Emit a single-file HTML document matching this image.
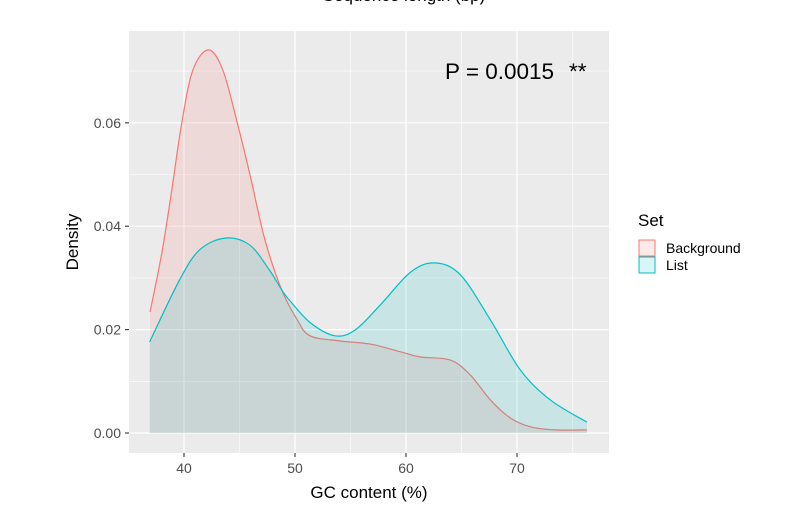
<!DOCTYPE html>
<html><head><meta charset="utf-8"><style>
body{margin:0;background:#fff;}
svg{display:block;font-family:"Liberation Sans",sans-serif;}
</style></head><body>
<svg id="c" width="790" height="531">
<text x="404" y="1" text-anchor="middle" font-size="17">Sequence length (bp)</text>
<rect x="129" y="31" width="480" height="422" fill="#ebebeb"/>
<g id="grid"></g>
<g id="series"></g>
<g id="axes"></g>
<g>
<text x="445" y="79" font-size="22.5">P = 0.0015</text>
<text x="569" y="79" font-size="22.5">**</text>
</g>
<text x="369" y="498" text-anchor="middle" font-size="17">GC content (%)</text>
<text transform="translate(78,242) rotate(-90)" text-anchor="middle" font-size="17">Density</text>
<g>
<text x="638" y="226" font-size="17">Set</text>
<rect x="639" y="240" width="16" height="16" fill="#f8766d" fill-opacity="0.15" stroke="#f8766d"/>
<rect x="639" y="257" width="16" height="16" fill="#00bfc4" fill-opacity="0.15" stroke="#00bfc4"/>
<text x="666" y="253" font-size="14">Background</text>
<text x="666" y="270" font-size="14">List</text>
</g>
</svg>
<script>
const bgX=[36.94,38.0,38.9,39.8,40.8,42.2,43.5,44.8,45.95,47.3,48.8,50.2,51.35,54.05,56.8,59.5,61.3,64.0,65.8,67.6,69.4,71.2,73.4,76.3];
const bgY=[0.0234,0.0348,0.0470,0.0600,0.0702,0.0741,0.0702,0.0600,0.0499,0.0373,0.0277,0.0219,0.0188,0.0178,0.0172,0.0157,0.0147,0.0141,0.0112,0.0064,0.0029,0.0012,0.0006,0.0006];
const listX=[36.9,39.6,41.4,43.7,45.9,47.7,48.8,49.5,51.4,53.6,55.4,57.7,60.4,62.6,64.9,67.6,70.3,73.0,76.3];
const listY=[0.0176,0.0296,0.0354,0.0377,0.0364,0.0315,0.0277,0.0257,0.0213,0.0188,0.0199,0.0248,0.0311,0.0329,0.0306,0.0219,0.0122,0.0064,0.0021];
const xTicks=[40,50,60,70];
const yTicks=[0,0.02,0.04,0.06];
const yTickLabels=["0.00","0.02","0.04","0.06"];
const sx=v=>184+(v-40)*11.1;
const sy=v=>433-v*5170;
const NS="http://www.w3.org/2000/svg";
function mk(tag,attrs,parent){const e=document.createElementNS(NS,tag);for(const k in attrs)e.setAttribute(k,attrs[k]);parent.appendChild(e);return e;}
const grid=document.getElementById('grid'),axes=document.getElementById('axes'),series=document.getElementById('series');
const xMinor=[35,45,55,65,75],yMinor=[0.01,0.03,0.05,0.07];
xMinor.forEach(v=>{const l=mk('line',{x1:sx(v),x2:sx(v),y1:31,y2:453,stroke:'#fff','stroke-width':0.6},grid);});
yMinor.forEach(v=>{const l=mk('line',{x1:129,x2:609,y1:sy(v),y2:sy(v),stroke:'#fff','stroke-width':0.6},grid);});
xTicks.forEach(v=>{
 const l=mk('line',{x1:sx(v),x2:sx(v),y1:31,y2:453,stroke:'#fff','stroke-width':1.2},grid);
 
 
 const t=mk('line',{x1:sx(v),x2:sx(v),y1:453,y2:457,stroke:'#333','stroke-width':1.1},axes);
 
 
 const tx=mk('text',{x:sx(v),y:473,'text-anchor':'middle','font-size':14,fill:'#4d4d4d'},axes);tx.textContent=v;
 
 
});
yTicks.forEach((v,i)=>{
 const l=mk('line',{x1:129,x2:609,y1:sy(v),y2:sy(v),stroke:'#fff','stroke-width':1.2},grid);
 
 
 const t=mk('line',{x1:125,x2:129,y1:sy(v),y2:sy(v),stroke:'#333','stroke-width':1.1},axes);
 
 
 const tx=mk('text',{x:121,y:sy(v)+5,'text-anchor':'end','font-size':14,fill:'#4d4d4d'},axes);tx.textContent=yTickLabels[i];
 
 
});
function curve(xs,ys){
 const p=xs.map((x,i)=>[sx(x),sy(ys[i])]);
 let d=`M${p[0][0]},${p[0][1]}`;
 for(let i=0;i<p.length-1;i++){
  const p0=p[i-1]||p[i],p1=p[i],p2=p[i+1],p3=p[i+2]||p2;
  const c1=[p1[0]+(p2[0]-p0[0])/6,p1[1]+(p2[1]-p0[1])/6];
  const c2=[p2[0]-(p3[0]-p1[0])/6,p2[1]-(p3[1]-p1[1])/6];
  d+=`C${c1[0]},${c1[1]} ${c2[0]},${c2[1]} ${p2[0]},${p2[1]}`;
 }
 return d;
}
function draw(xs,ys,col,name){
 const c=curve(xs,ys);
 const a=mk('path',{d:c+`L${sx(xs[xs.length-1])},${sy(0)}L${sx(xs[0])},${sy(0)}Z`,fill:col,'fill-opacity':0.15,stroke:'none'},series);
 
 
 const l=mk('path',{d:c,fill:'none',stroke:col,'stroke-width':1.2},series);
 
 
}
draw(bgX,bgY,'#f8766d','background');
draw(listX,listY,'#00bfc4','list');
</script>
</body></html>
